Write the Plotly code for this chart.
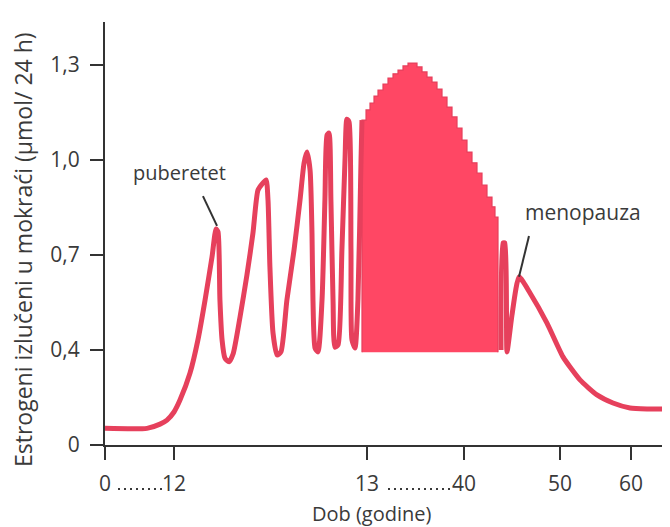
import numpy as np
import plotly.graph_objects as go

# ---------------- data ----------------
# schematic, non-linear axes
x_tick_ages = [0, 12, 13, 40, 50, 60]
x_tick_labels = ["0", "12", "13", "40", "50", "60"]
y_tick_values = [0, 0.4, 0.7, 1.0, 1.3]
y_tick_labels = ["0", "0,4", "0,7", "1,0", "1,3"]

# phase 1: childhood and first (puberty) cycles  -- age (years), estrogen (umol/24h)
age_1 = [0, 7.30, 9.57, 10.78, 12.0, 12.031, 12.083, 12.124, 12.161, 12.197, 12.218, 12.228,
         12.238, 12.249, 12.264, 12.285, 12.306, 12.342, 12.378, 12.409, 12.435, 12.456,
         12.477, 12.487, 12.497, 12.513, 12.534, 12.554, 12.585, 12.622, 12.653, 12.674,
         12.689, 12.705, 12.715, 12.720, 12.731, 12.746, 12.767, 12.782, 12.793, 12.803,
         12.813, 12.824, 12.834, 12.850, 12.870, 12.886, 12.896, 12.907, 12.917, 12.922,
         12.938, 12.953, 12.969, 12.974]
estr_1 = [0.07, 0.07, 0.088, 0.105, 0.139, 0.189, 0.303, 0.432, 0.558, 0.694, 0.782, 0.773,
          0.558, 0.432, 0.366, 0.350, 0.383, 0.504, 0.637, 0.769, 0.905, 0.924,
          0.937, 0.874, 0.662, 0.454, 0.379, 0.392, 0.558, 0.716, 0.874, 0.991,
          1.025, 0.968, 0.769, 0.558, 0.406, 0.392, 0.558, 0.874, 1.079, 1.085,
          0.874, 0.558, 0.409, 0.416, 0.716, 1.0, 1.129, 1.120, 0.716, 0.432,
          0.406, 0.558, 1.0, 1.126]

# phase 2: reproductive years, dense monthly cycles (upper envelope, lower level)
age_env = [12.974, 12.995, 13.835, 14.949, 16.062, 17.454, 18.846, 20.238, 21.630, 23.022,
           24.414, 25.528, 26.920, 28.311, 29.703, 31.095, 32.487, 33.879, 35.271, 36.663,
           38.055, 39.447, 40.313, 40.833, 41.354, 41.875, 42.396, 42.917, 43.229, 43.542]
estr_env = [1.126, 1.158, 1.180, 1.202, 1.221, 1.240, 1.259, 1.272, 1.284, 1.297,
            1.306, 1.306, 1.294, 1.278, 1.262, 1.246, 1.224, 1.199, 1.167, 1.136,
            1.101, 1.063, 1.025, 0.991, 0.959, 0.921, 0.883, 0.852, 0.820, 0.820]
estr_env_low = 0.39

# phase 3: last cycle and menopause
age_3 = [43.854, 44.063, 44.271, 44.479, 45.0, 45.729, 46.875, 48.646, 50.423, 52.817,
         55.211, 57.465, 59.859, 62.254, 64.507]
estr_3 = [0.40, 0.738, 0.738, 0.392, 0.511, 0.631, 0.580, 0.485, 0.371, 0.274,
          0.211, 0.177, 0.156, 0.152, 0.152]

# ---------------- layout constants / scale mapping ----------------
X_TICK_POS = [0, 6.9, 26.2, 35.9, 45.5, 52.6]   # position of each age tick on the axis
X_RANGE = [0, 56.5]
Y_RANGE = [0, 4.4526]


def xpos(a):
    a = np.asarray(a, float)
    return np.interp(a, x_tick_ages + [70], X_TICK_POS + [59.7])


def ypos(v):
    v = np.asarray(v, float)
    return np.where(v < 0.4, v / 0.4, 1 + (v - 0.4) / 0.3)


LINE_COL = "#E6405C"
FILL_COL = "#FF4764"
TXT = "#3a3a3a"
AX = "#333333"
FONT = "Open Sans"

fig = go.Figure()

# dense cycles block
bx = [age_env[0]] + age_env + [age_env[-1]]
by = [estr_env_low] + estr_env + [estr_env_low]
fig.add_trace(go.Scatter(x=xpos(bx), y=ypos(by), mode="lines", fill="toself",
                         fillcolor=FILL_COL, line=dict(color=LINE_COL, width=1.2, shape="hv"),
                         hoverinfo="skip", showlegend=False))

fig.add_trace(go.Scatter(x=xpos(age_1), y=ypos(estr_1), mode="lines",
                         line=dict(color=LINE_COL, width=5, shape="spline", smoothing=0.6),
                         showlegend=False))
fig.add_trace(go.Scatter(x=xpos(age_3), y=ypos(estr_3), mode="lines",
                         line=dict(color=LINE_COL, width=5, shape="spline", smoothing=0.5),
                         showlegend=False))

# leader lines for labels
fig.add_shape(type="line", x0=float(xpos(12.150)), y0=float(ypos(0.886)),
              x1=float(xpos(12.223)), y1=float(ypos(0.792)), line=dict(color=AX, width=2))
fig.add_shape(type="line", x0=float(xpos(46.77)), y0=float(ypos(0.76)),
              x1=float(xpos(45.73)), y1=float(ypos(0.631)), line=dict(color=AX, width=2))

fig.add_annotation(x=float(xpos(12.031)), y=float(ypos(0.959)), text="puberetet",
                   xanchor="center", yanchor="middle",
                   showarrow=False, font=dict(family=FONT, size=20, color=TXT))
fig.add_annotation(x=float(xpos(53.24)), y=float(ypos(0.836)), text="menopauza",
                   xanchor="center", yanchor="middle",
                   showarrow=False, font=dict(family=FONT, size=21, color=TXT))

# page geometry (the html body adds an 8px offset)
OFF = 8
L, R, T, B = 105, 670, 22, 445     # plot area in page pixels
W = R - L
H = B - T
for a, b in [(118, 163), (388, 450)]:
    fig.add_shape(type="line", xref="paper", yref="paper",
                  x0=(a - L) / W, x1=(b - L) / W, y0=(B - 489) / H, y1=(B - 489) / H,
                  line=dict(color=TXT, width=2, dash="2px,4px"))

# axis titles
fig.add_annotation(xref="paper", yref="paper", x=(23 - L) / W, y=(B - 250) / H,
                   xanchor="center", yanchor="middle",
                   text="Estrogeni izlučeni u mokraći (µmol/ 24 h)", textangle=-90,
                   showarrow=False, font=dict(family=FONT, size=23, color=TXT))
fig.add_annotation(xref="paper", yref="paper", x=(372 - L) / W, y=(B - 513) / H,
                   xanchor="center", yanchor="middle",
                   text="Dob (godine)", showarrow=False,
                   font=dict(family=FONT, size=20, color=TXT))

fig.update_xaxes(range=X_RANGE, showline=True, linecolor=AX, linewidth=2,
                 ticks="outside", ticklen=13, tickwidth=2, tickcolor=AX,
                 tickvals=list(xpos(x_tick_ages)), ticktext=x_tick_labels,
                 tickfont=dict(family=FONT, size=21, color=TXT), ticklabelstandoff=6,
                 showgrid=False, zeroline=False, automargin=False)
fig.update_yaxes(range=Y_RANGE, showline=True, linecolor=AX, linewidth=2,
                 ticks="outside", ticklen=13, tickwidth=2, tickcolor=AX,
                 tickvals=list(ypos(y_tick_values)), ticktext=y_tick_labels,
                 tickfont=dict(family=FONT, size=21, color=TXT), ticklabelstandoff=6,
                 showgrid=False, zeroline=False, automargin=False)

fig.update_layout(width=670, height=527,
                  margin=dict(l=L - OFF, r=670 - (R - OFF), t=T - OFF, b=527 - (B - OFF)),
                  plot_bgcolor="white", paper_bgcolor="white", showlegend=False,
                  font=dict(family=FONT, color=TXT))

fig.write_html("out.html")
